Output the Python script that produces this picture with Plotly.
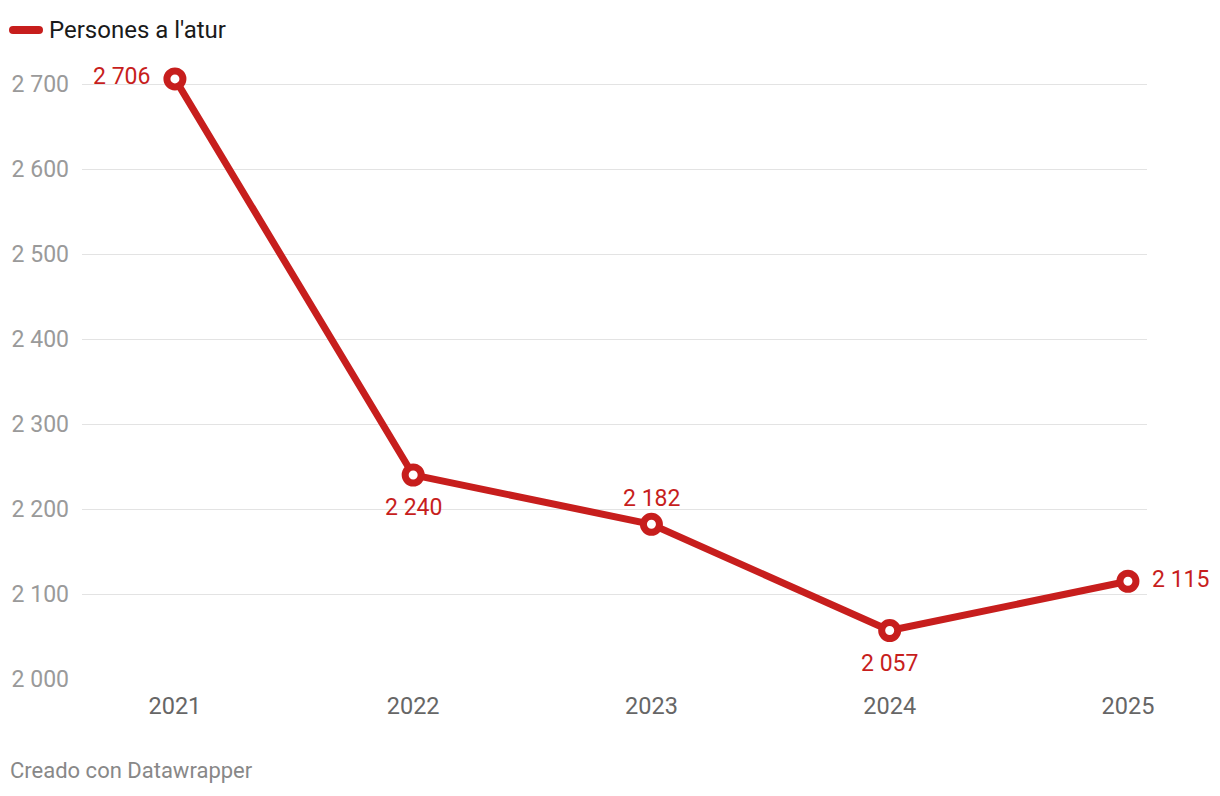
import plotly.graph_objects as go

years = [2021, 2022, 2023, 2024, 2025]
values = [2706, 2240, 2182, 2057, 2115]
series_name = "Persones a l'atur"
y_ticks = [2000, 2100, 2200, 2300, 2400, 2500, 2600, 2700]

RED = "#c71e1d"

def fmt(v):
    return f"{v:,}".replace(",", " ")

# label placement (style only): anchor, x shift, y shift
label_style = [
    ("right", "middle", -23, 2),
    ("center", "middle", 0, -32),
    ("center", "middle", 0, 26),
    ("center", "middle", 0, -33),
    ("left", "middle", 22, 2),
]

# page body has an 8px margin; figure sized to fill the rest
OFF = 8
W, H = 1212, 788
L, R, T, B = 74, 73, 59, 117
pw = W - L - R
ph = H - T - B

fig = go.Figure()
fig.add_trace(go.Scatter(
    x=years, y=values, mode="lines+markers",
    name=series_name,
    line=dict(color=RED, width=7),
    marker=dict(size=16, color="white", line=dict(color=RED, width=7)),
    showlegend=False,
    cliponaxis=False,
))

for x, y, (xa, ya, xs, ys) in zip(years, values, label_style):
    fig.add_annotation(x=x, y=y, text=fmt(y), showarrow=False,
                       xanchor=xa, yanchor=ya, xshift=xs, yshift=ys,
                       font=dict(family="Roboto", size=23, color=RED))

fig.update_layout(
    width=W, height=H,
    margin=dict(l=L, r=R, t=T, b=B, autoexpand=False),
    paper_bgcolor="white", plot_bgcolor="white",
    font=dict(family="Roboto"),
    xaxis=dict(
        range=[2020.61, 2025.08],
        tickvals=years, ticktext=[str(y) for y in years],
        showgrid=False, zeroline=False, showline=False,
        tickfont=dict(size=23.5, color="#666666"),
        ticks="", ticklabelstandoff=10, automargin=False,
    ),
    yaxis=dict(
        range=[2000, 2720],
        tickvals=y_ticks, ticktext=[fmt(v) for v in y_ticks],
        showgrid=True, gridcolor="#e3e3e3", gridwidth=1,
        zeroline=False, showline=False,
        tickfont=dict(size=23, color="#9a9a9a"),
        ticks="", ticklabelstandoff=12, automargin=False,
    ),
)

def px_x(p):
    return (p - OFF - L) / pw

def px_y(p):
    return 1 - (p - OFF - T) / ph

# legend (manual)
fig.add_shape(type="line", xref="paper", yref="paper",
              x0=px_x(13), x1=px_x(39), y0=px_y(30), y1=px_y(30),
              line=dict(color=RED, width=8))
for cx in (13, 39):
    fig.add_shape(type="circle", xref="paper", yref="paper",
                  x0=px_x(cx - 4), x1=px_x(cx + 4), y0=px_y(34), y1=px_y(26),
                  fillcolor=RED, line=dict(width=0))
fig.add_annotation(xref="paper", yref="paper", x=px_x(47), y=px_y(30),
                   xanchor="left", yanchor="middle", showarrow=False,
                   text=series_name, font=dict(size=24, color="#1a1a1a", family="Roboto"))
# footer
fig.add_annotation(xref="paper", yref="paper", x=px_x(8), y=px_y(770),
                   xanchor="left", yanchor="middle", showarrow=False,
                   text="Creado con Datawrapper", font=dict(size=22, color="#888888", family="Roboto"))

fig.write_html("out.html")
